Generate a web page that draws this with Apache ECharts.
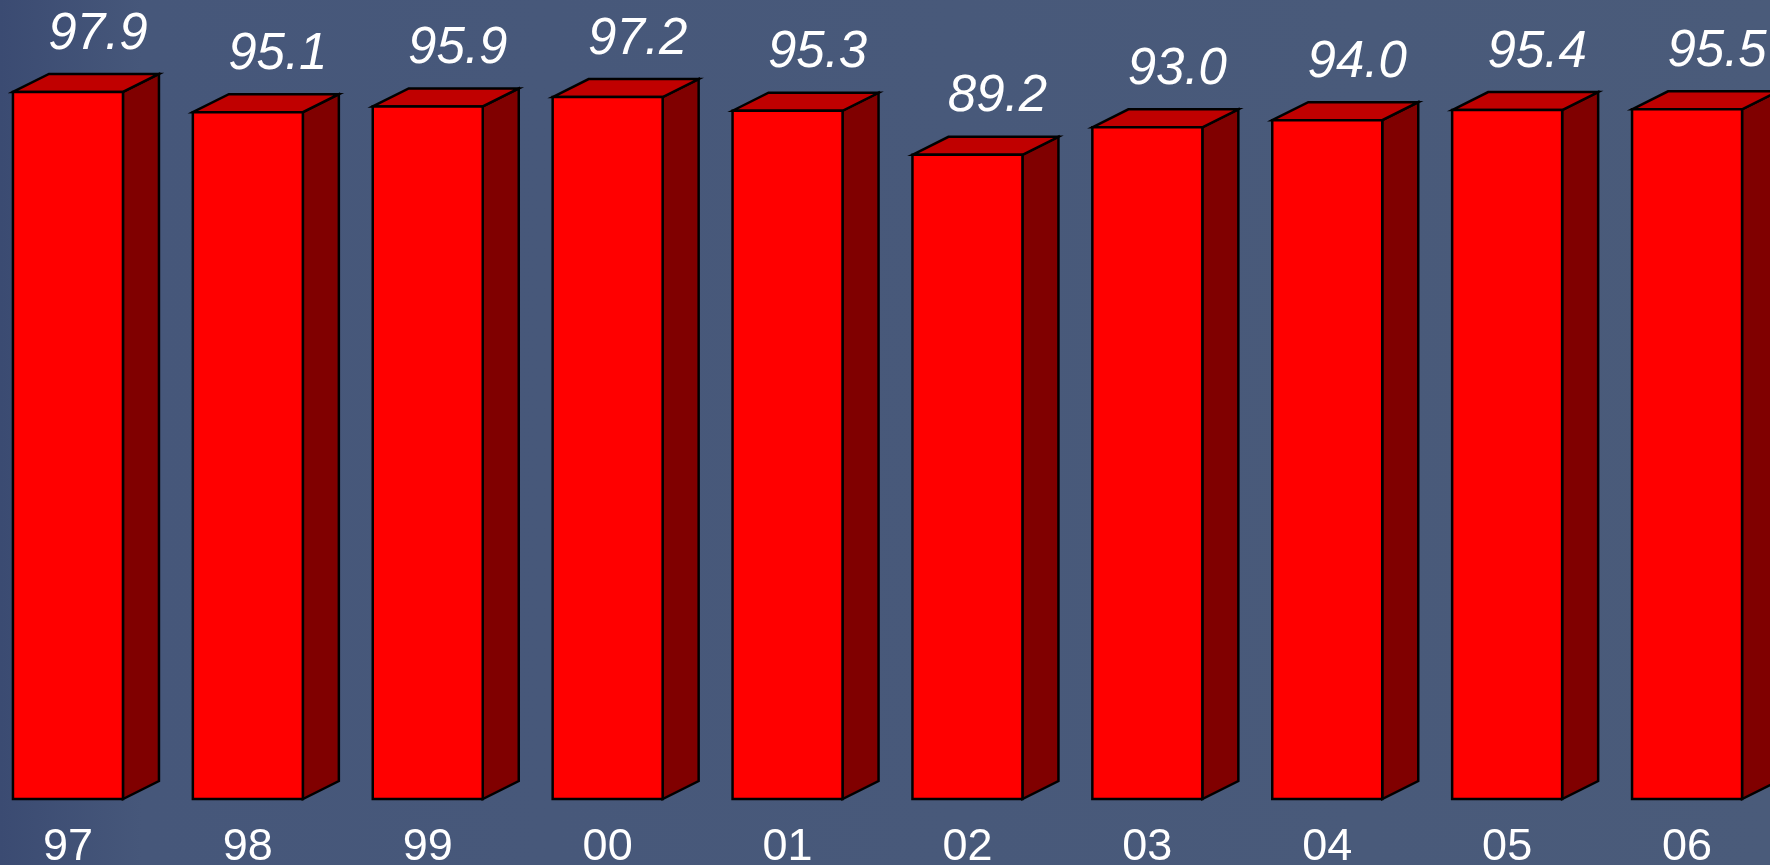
<!DOCTYPE html>
<html>
<head>
<meta charset="utf-8">
<script src="https://cdn.jsdelivr.net/npm/echarts@6/dist/echarts.min.js"></script>
<style>
html, body { margin: 0; padding: 0; }
#chart-panel { width: 1770px; height: 865px; }
</style>
</head>
<body>
<div id="chart-panel"></div>
<script>
var years = ['97', '98', '99', '00', '01', '02', '03', '04', '05', '06']
var values = [97.9, 95.1, 95.9, 97.2, 95.3, 89.2, 93.0, 94.0, 95.4, 95.5]
var valueLabels = ['97.9', '95.1', '95.9', '97.2', '95.3', '89.2', '93.0', '94.0', '95.4', '95.5']

// depth of the fake 3d box, in pixels
var depthX = 36
var depthY = 18
var barWidth = 110

function renderBox(params, api) {
    var idx = api.value(0)
    var top = api.coord([idx, api.value(1)])
    var base = api.coord([idx, 0])
    var x0 = top[0] - barWidth / 2
    var x1 = top[0] + barWidth / 2
    var y0 = top[1]
    var y1 = base[1]
    var line = { stroke: '#000', lineWidth: 2.5, lineJoin: 'miter' }
    return {
        type: 'group',
        children: [{
            type: 'polygon',
            shape: { points: [[x1, y0], [x1 + depthX, y0 - depthY], [x1 + depthX, y1 - depthY], [x1, y1]] },
            style: Object.assign({ fill: '#800000' }, line)
        }, {
            type: 'polygon',
            shape: { points: [[x0, y0], [x0 + depthX, y0 - depthY], [x1 + depthX, y0 - depthY], [x1, y0]] },
            style: Object.assign({ fill: '#c00000' }, line)
        }, {
            type: 'rect',
            shape: { x: x0, y: y0, width: barWidth, height: y1 - y0 },
            style: Object.assign({ fill: '#ff0000' }, line)
        }, {
            type: 'text',
            x: top[0] + 30,
            y: y0 - 32,
            style: {
                text: valueLabels[idx],
                fill: '#fff',
                font: 'italic 51px "Liberation Sans", Arial, sans-serif',
                align: 'center',
                verticalAlign: 'bottom'
            }
        }]
    }
}

var chartOption = {
    backgroundColor: {
        type: 'linear',
        x: 0, y: 0, x2: 1, y2: 0,
        colorStops: [
            { offset: 0, color: '#3b4b72' },
            { offset: 0.08, color: '#46577a' },
            { offset: 1, color: '#4a5b7a' }
        ]
    },
    animation: false,
    grid: {
        left: -22,
        width: 1799,
        top: 76.8,
        bottom: 66,
        outerBoundsMode: 'none',
        containLabel: false
    },
    xAxis: {
        type: 'category',
        data: years,
        boundaryGap: true,
        axisLine: { show: false },
        axisTick: { show: false },
        axisLabel: {
            color: '#fff',
            fontSize: 45,
            fontFamily: '"Liberation Sans", Arial, sans-serif',
            margin: 26
        }
    },
    yAxis: {
        type: 'value',
        min: 0,
        max: 100,
        show: false
    },
    series: [{
        type: 'custom',
        renderItem: renderBox,
        clip: false,
        data: values.map(function (v, i) { return [i, v] })
    }]
}

var myChart = echarts.init(document.getElementById('chart-panel'))
myChart.setOption(chartOption)
</script>
</body>
</html>
